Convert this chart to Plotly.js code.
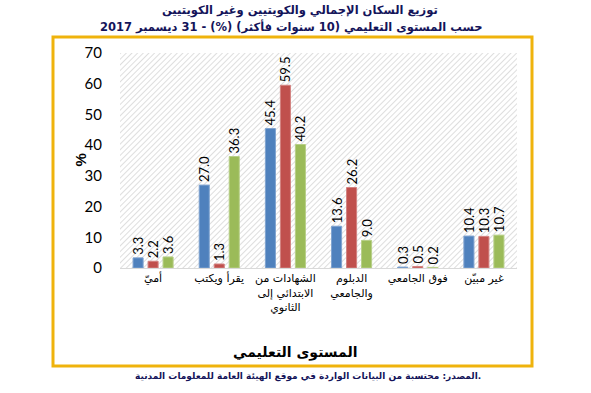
<!DOCTYPE html>
<html><head><meta charset="utf-8">
<script src="https://cdn.plot.ly/plotly-3.0.1.min.js"></script>
<style>body{margin:0;background:#fff}#c{width:591px;height:393px}</style>
</head><body><div id="c"></div>
<script>
const categories = ["أميّ", "يقرأ ويكتب", "الشهادات من<br>الابتدائي إلى<br>الثانوي", "الدبلوم<br>والجامعي", "فوق الجامعي", "غير مبيّن"];
const totalVals = [3.3, 27.0, 45.4, 13.6, 0.3, 10.4];
const kuwaitiVals = [2.2, 1.3, 59.5, 26.2, 0.5, 10.3];
const nonKuwaitiVals = [3.6, 36.3, 40.2, 9.0, 0.2, 10.7];
const yTicks = [0, 10, 20, 30, 40, 50, 60, 70];

const numFont = {family: "Lato, 'Liberation Sans', sans-serif", size: 13, color: "#000"};
function mk(name, vals, color, edge) {
  return {type: "bar", name: name, x: categories, y: vals,
    marker: {color: color, line: {color: edge, width: 1}},
    text: vals.map(v => v.toFixed(1)), textposition: "outside", textangle: -90,
    constraintext: "none",
    textfont: numFont, cliponaxis: false, hoverinfo: "skip"};
}
const traces = [
  mk("الإجمالي", totalVals, "#4F81BD", "#7FA3D0"),
  mk("الكويتيون", kuwaitiVals, "#C0504D", "#D38280"),
  mk("غير الكويتيين", nonKuwaitiVals, "#9BBB59", "#B7CF87")
];

const svg = "<svg xmlns='http://www.w3.org/2000/svg' width='397' height='215'><defs><pattern id='p' width='4' height='4' patternUnits='userSpaceOnUse' patternTransform='rotate(45)'><line x1='0' y1='0' x2='0' y2='4' stroke='#c8c8c8' stroke-width='1.2'/></pattern></defs><rect width='397' height='215' fill='url(#p)'/></svg>";
const hatch = "data:image/svg+xml;charset=utf-8," + encodeURIComponent(svg);

const ar = "'DejaVu Sans', 'Liberation Sans', Arial, sans-serif";
const navy = "#14145A";
function px(x) { return (x - 120) / 397; }
function py(y) { return (268 - y) / 215; }
const layout = {
  width: 591, height: 393,
  margin: {l: 120, r: 74, t: 53, b: 125},
  paper_bgcolor: "#fff", plot_bgcolor: "rgba(0,0,0,0)",
  showlegend: false,
  barmode: "group", bargap: 0.32, bargroupgap: 0.33,
  font: {family: ar, color: "#000"},
  xaxis: {type: "category", tickfont: {family: ar, size: 11, color: "#000"},
    showline: true, linecolor: "#d9d9d9", linewidth: 1, ticks: "", showgrid: false,
    automargin: false},
  yaxis: {range: [0, 70], tickvals: yTicks, ticktext: yTicks.map(String),
    tickfont: {family: "Lato, 'Liberation Sans', sans-serif", size: 15, color: "#000"},
    showgrid: false, zeroline: false, showline: false, ticks: "outside", ticklen: 14,
    tickcolor: "rgba(0,0,0,0)", automargin: false},
  images: [{source: hatch, xref: "paper", yref: "paper", x: 0, y: 1, sizex: 1, sizey: 1,
    sizing: "stretch", xanchor: "left", yanchor: "top", layer: "below"}],
  shapes: [{type: "rect", xref: "paper", yref: "paper",
    x0: px(53), x1: px(532), y0: py(366), y1: py(37),
    line: {color: "#EFB30C", width: 3}, fillcolor: "rgba(0,0,0,0)", layer: "below"}],
  annotations: [
    {text: "<b>توزيع السكان الإجمالي والكويتيين وغير الكويتيين</b>", xref: "paper", yref: "paper",
      x: px(300), y: py(10), yanchor: "middle", showarrow: false, font: {family: ar, size: 11.5, color: navy}},
    {text: "<b>حسب المستوى التعليمي (10 سنوات فأكثر) (%) - 31 ديسمبر 2017</b>", xref: "paper", yref: "paper",
      x: px(291), y: py(27), yanchor: "middle", showarrow: false, font: {family: ar, size: 11.5, color: navy}},
    {text: "<b>%</b>", xref: "paper", yref: "paper", x: px(69), y: py(160), yanchor: "middle",
      showarrow: false, textangle: -90, font: {family: "'Liberation Sans', Arial, sans-serif", size: 15, color: "#000"}},
    {text: "<b>المستوى التعليمي</b>", xref: "paper", yref: "paper", x: px(295), y: py(352), yanchor: "middle",
      showarrow: false, font: {family: ar, size: 14, color: "#000"}},
    {text: "<b>المصدر: محتسبة من البيانات الواردة في موقع الهيئة العامة للمعلومات المدنية.</b>", xref: "paper", yref: "paper",
      x: px(483), y: py(376), xanchor: "right", yanchor: "middle", showarrow: false,
      font: {family: ar, size: 9, color: navy}}
  ]
};
Plotly.newPlot("c", traces, layout, {displayModeBar: false, staticPlot: true});
</script></body></html>
